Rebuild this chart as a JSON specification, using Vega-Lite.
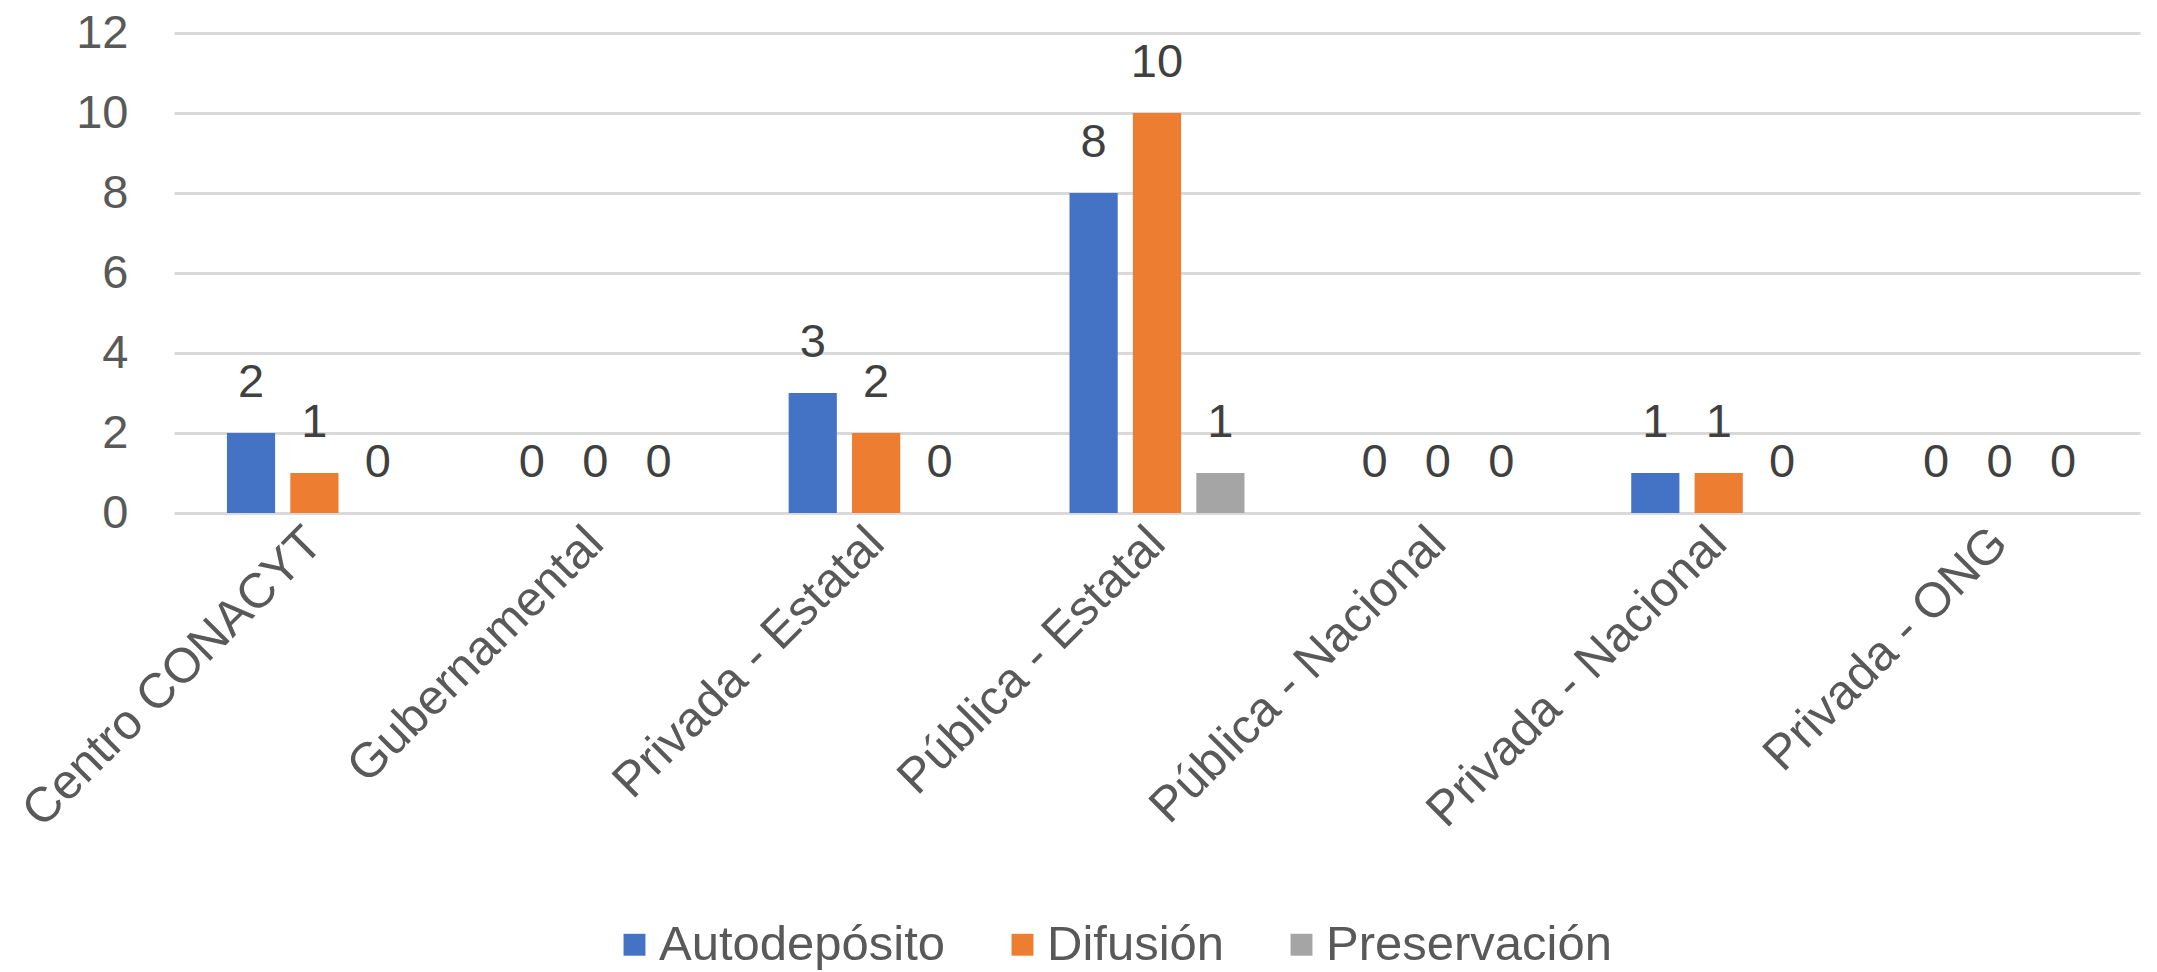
{
  "$schema": "https://vega.github.io/schema/vega-lite/v6.json",
  "width": 1966,
  "height": 480,
  "autosize": "none",
  "padding": {"left": 174, "top": 33, "right": 17, "bottom": 459},
  "background": "white",
  "data": {
    "values": [
      {"cat": "Centro CONACYT", "serie": "Autodepósito", "valor": 2},
      {"cat": "Centro CONACYT", "serie": "Difusión", "valor": 1},
      {"cat": "Centro CONACYT", "serie": "Preservación", "valor": 0},
      {"cat": "Gubernamental", "serie": "Autodepósito", "valor": 0},
      {"cat": "Gubernamental", "serie": "Difusión", "valor": 0},
      {"cat": "Gubernamental", "serie": "Preservación", "valor": 0},
      {"cat": "Privada - Estatal", "serie": "Autodepósito", "valor": 3},
      {"cat": "Privada - Estatal", "serie": "Difusión", "valor": 2},
      {"cat": "Privada - Estatal", "serie": "Preservación", "valor": 0},
      {"cat": "Pública - Estatal", "serie": "Autodepósito", "valor": 8},
      {"cat": "Pública - Estatal", "serie": "Difusión", "valor": 10},
      {"cat": "Pública - Estatal", "serie": "Preservación", "valor": 1},
      {"cat": "Pública - Nacional", "serie": "Autodepósito", "valor": 0},
      {"cat": "Pública - Nacional", "serie": "Difusión", "valor": 0},
      {"cat": "Pública - Nacional", "serie": "Preservación", "valor": 0},
      {"cat": "Privada - Nacional", "serie": "Autodepósito", "valor": 1},
      {"cat": "Privada - Nacional", "serie": "Difusión", "valor": 1},
      {"cat": "Privada - Nacional", "serie": "Preservación", "valor": 0},
      {"cat": "Privada - ONG", "serie": "Autodepósito", "valor": 0},
      {"cat": "Privada - ONG", "serie": "Difusión", "valor": 0},
      {"cat": "Privada - ONG", "serie": "Preservación", "valor": 0}
    ]
  },
  "config": {
    "view": {"stroke": null},
    "font": "Liberation Sans",
    "axis": {"labelFont": "Liberation Sans", "labelColor": "#595959"},
    "legend": {"labelFont": "Liberation Sans"}
  },
  "encoding": {
    "x": {
      "field": "cat",
      "type": "nominal",
      "sort": null,
      "scale": {"paddingInner": 0.377, "paddingOuter": 0.1885},
      "axis": {
        "title": null,
        "labelAngle": -45,
        "labelAlign": "right",
        "labelBaseline": "middle",
        "labelFontSize": 49,
        "labelPadding": 22,
        "ticks": false,
        "domain": false,
        "labelLimit": 0,
        "grid": false
      }
    },
    "xOffset": {
      "field": "serie",
      "type": "nominal",
      "scale": {"paddingInner": 0.24, "paddingOuter": 0}
    },
    "y": {
      "field": "valor",
      "type": "quantitative",
      "scale": {"domain": [0, 12]},
      "axis": {
        "title": null,
        "values": [0, 2, 4, 6, 8, 10, 12],
        "labelFontSize": 47,
        "labelPadding": 46,
        "ticks": false,
        "domain": false,
        "gridColor": "#D9D9D9",
        "gridWidth": 3
      }
    }
  },
  "layer": [
    {
      "mark": {"type": "bar"},
      "encoding": {
        "color": {
          "field": "serie",
          "type": "nominal",
          "scale": {
            "domain": ["Autodepósito", "Difusión", "Preservación"],
            "range": ["#4472C4", "#ED7D31", "#A5A5A5"]
          },
          "legend": {
            "title": null,
            "orient": "none",
            "direction": "horizontal",
            "legendX": 436,
            "legendY": 887,
            "symbolType": "square",
            "symbolSize": 480,
            "symbolStrokeWidth": 0,
            "labelFontSize": 49,
            "labelColor": "#595959",
            "labelOffset": 0,
            "columnPadding": 52,
            "labelLimit": 0
          }
        }
      }
    },
    {
      "mark": {"type": "text", "baseline": "alphabetic", "dy": -36, "fontSize": 47, "color": "#404040"},
      "encoding": {
        "text": {"field": "valor", "type": "quantitative"}
      }
    }
  ]
}
